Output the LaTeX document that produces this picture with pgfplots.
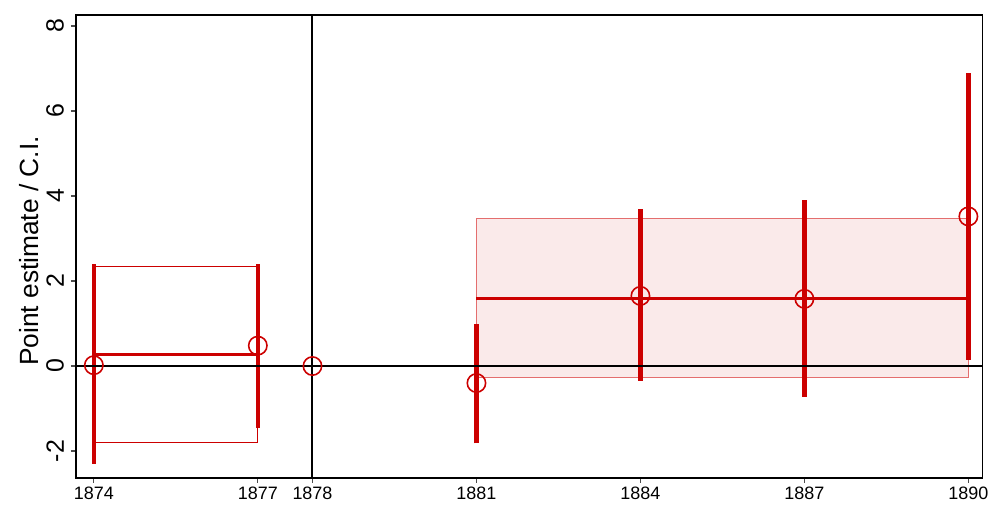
\documentclass[border=0pt]{standalone}
\usepackage{pgfplots}
\pgfplotsset{compat=1.18}
\usepackage{fontspec}
\setmainfont{Liberation Sans}
\definecolor{cired}{RGB}{204,0,0}
\definecolor{boxline}{RGB}{228,110,110}
\definecolor{pinkfill}{RGB}{250,234,234}
\begin{document}
\begin{tikzpicture}
\begin{axis}[
  name=main,
  scale only axis,
  width=454.5pt, height=232pt,
  xmin=1873.67, xmax=1890.26, ymin=-2.63, ymax=8.26,
  xtick={1874,1877,1878,1881,1884,1887,1890},
  xticklabels={1874,1877,1878,1881,1884,1887,1890},
  ytick={-2,0,2,4,6,8},
  yticklabels={-2,0,2,4,6,8},
  x tick label style={font=\fontsize{9}{10}\selectfont, yshift=1.5pt},
  y tick label style={rotate=90, anchor=south, font=\fontsize{12.5}{14}\selectfont},
  ylabel={Point estimate / C.I.},
  every axis y label/.style={at={([xshift=-23.5pt]axis description cs:0,0.49)}, rotate=90, anchor=center, font=\fontsize{13.2}{15}\selectfont},
  tick align=outside, xtick pos=bottom, ytick pos=left,
  major tick length=2.5pt,
  tick style={line width=0.6pt, black!70},
  axis line style={line width=0.7pt},
  unbounded coords=jump,
]
% post-period box
\addplot[fill=pinkfill, draw=boxline, line width=0.5pt] coordinates {(1881,-0.28) (1890,-0.28) (1890,3.48) (1881,3.48) (1881,-0.28)};
% pre-period box
\addplot[draw=cired, line width=0.5pt] coordinates {(1874,-1.80) (1877,-1.80) (1877,2.35) (1874,2.35) (1874,-1.80)};
% period means
\addplot[cired, line width=1.2pt] coordinates {(1874,0.27) (1877,0.27)};
\addplot[cired, line width=1.2pt] coordinates {(1881,1.59) (1890,1.59)};
% confidence intervals
\addplot[cired, line width=2.3pt] coordinates {
  (1874,-2.30) (1874,2.40) (1874,nan)
  (1877,-1.45) (1877,2.40) (1877,nan)
  (1881,-1.82) (1881,1.00) (1881,nan)
  (1884,-0.35) (1884,3.70) (1884,nan)
  (1887,-0.72) (1887,3.91) (1887,nan)
  (1890,0.15) (1890,6.90)};
% reference lines
\addplot[black, line width=1pt] coordinates {(1873.67,0) (1890.26,0)};
\addplot[black, line width=1pt] coordinates {(1878,-2.63) (1878,8.26)};
% point estimates
\addplot[only marks, mark=o, mark size=4.6pt, cired, mark options={line width=0.8pt}] coordinates {
  (1874,0.02) (1877,0.48) (1878,0.0) (1881,-0.40) (1884,1.65) (1887,1.58) (1890,3.52)};
\end{axis}
\path ([xshift=-38pt,yshift=-14pt]main.south west) rectangle ([xshift=5pt,yshift=7.5pt]main.north east);
\end{tikzpicture}
\end{document}
